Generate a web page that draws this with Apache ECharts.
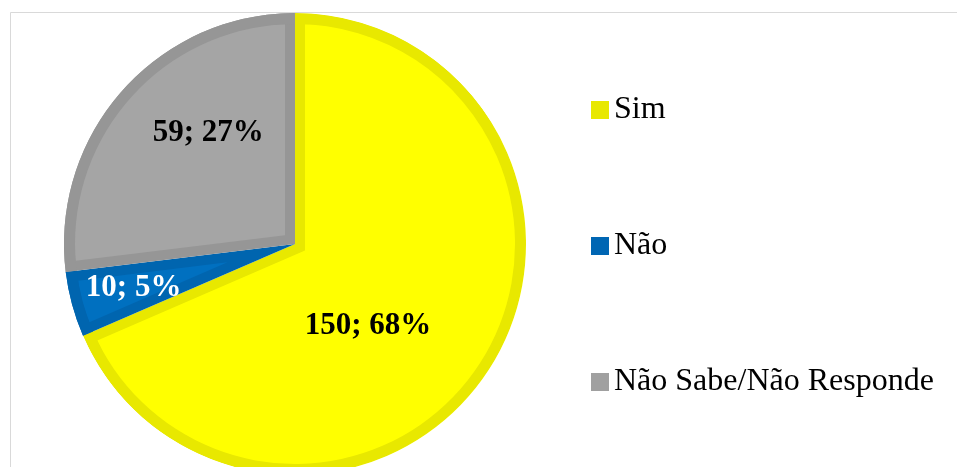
<!DOCTYPE html>
<html>
<head>
<meta charset="utf-8">
<script src="https://cdn.jsdelivr.net/npm/echarts@6/dist/echarts.min.js"></script>
<style>
html,body{margin:0;padding:0;background:#fff;}
#chart{width:957px;height:467px;}
</style>
</head>
<body>
<div id="chart"></div>
<script>
// ---- data ----
const categories = ['Sim', 'Não', 'Não Sabe/Não Responde'];
const values = [150, 10, 59];

// ---- styles ----
const lightColors = ['#FFFF00', '#0070C0', '#A5A5A5'];
const darkColors = ['#E8E800', '#0065AF', '#969696'];
const legendColors = ['#E8E800', '#0066B3', '#A0A0A0'];
const labelColors = ['#000000', '#FFFFFF', '#000000'];
const labelOffsets = [[-26, 17], [-47, 13], [2, -32]];

const cx = 295, cy = 244, R = 231, ring = 11, inset = 10;
const Rin = R - ring;
const total = values.reduce((a, b) => a + b, 0);
const T = 'rgba(0,0,0,0)';

const chart = echarts.init(document.getElementById('chart'), null, {renderer: 'canvas'});

const series = [];
// base dark pie
series.push({
  type: 'pie', z: 1, silent: true, center: [cx, cy], radius: R, startAngle: 90,
  label: {show: false}, labelLine: {show: false}, emphasis: {disabled: true},
  data: values.map((v, i) => ({name: categories[i], value: v, itemStyle: {color: darkColors[i], borderWidth: 0}}))
});
// light inset sectors
let cum = 0;
const overflow = [];
values.forEach((v, i) => {
  const startDeg = 90 - cum / total * 360;
  const span = v / total * 360;
  const mid = (startDeg - span / 2) * Math.PI / 180;
  const half = span / 2 * Math.PI / 180;
  const off = inset / Math.sin(half);
  const c = Math.cos(half);
  const rl = -off * c + Math.sqrt(off * off * c * c - off * off + Rin * Rin);
  overflow.push(rl + off > R);
  series.push({
    type: 'pie', z: 2, silent: true,
    center: [cx + off * Math.cos(mid), cy - off * Math.sin(mid)],
    radius: rl, startAngle: startDeg,
    label: {show: false}, labelLine: {show: false}, emphasis: {disabled: true},
    data: [
      {name: categories[i] + '_l', value: v, itemStyle: {color: lightColors[i], borderWidth: 0}},
      {name: 'rest' + i, value: total - v, itemStyle: {color: T, borderWidth: 0}}
    ]
  });
  cum += v;
});
// dark outer ring
series.push({
  type: 'pie', z: 3, silent: true, center: [cx, cy], radius: [Rin, R], startAngle: 90,
  label: {show: false}, labelLine: {show: false}, emphasis: {disabled: true},
  data: values.map((v, i) => ({name: categories[i] + '_r', value: v, itemStyle: {color: darkColors[i], borderWidth: 0}}))
});
// white cover for overflow
series.push({
  type: 'pie', z: 3, silent: true, center: [cx, cy], radius: [R, R + 16], startAngle: 90,
  label: {show: false}, labelLine: {show: false}, emphasis: {disabled: true},
  data: values.map((v, i) => ({name: categories[i] + '_w', value: v, itemStyle: {color: overflow[i] ? '#FFFFFF' : T, borderWidth: 0}}))
});
// labels
series.push({
  type: 'pie', z: 5, silent: true, center: [cx, cy], radius: R, startAngle: 90,
  percentPrecision: 0,
  labelLine: {show: false}, emphasis: {disabled: true},
  data: values.map((v, i) => ({
    name: categories[i] + '_t', value: v,
    itemStyle: {color: T, borderWidth: 0},
    label: {
      show: true, position: 'inside', formatter: '{c}; {d}%',
      color: labelColors[i], offset: labelOffsets[i],
      fontFamily: 'Liberation Serif', fontWeight: 'bold', fontSize: 31
    }
  }))
});

chart.setOption({
  animation: false,
  backgroundColor: '#FFFFFF',
  legend: {
    orient: 'vertical', left: 586, top: 89,
    itemWidth: 18, itemHeight: 18, itemGap: 104,
    selectedMode: false, icon: 'rect',
    textStyle: {fontFamily: 'Liberation Serif', fontSize: 32, color: '#000000'},
    data: categories.map((n, i) => ({name: n, itemStyle: {color: legendColors[i], borderWidth: 0}}))
  },
  graphic: [{
    type: 'rect', z: 100, silent: true,
    shape: {x: 10.5, y: 12.5, width: 947, height: 470},
    style: {fill: 'none', stroke: '#D9D9D9', lineWidth: 1}
  }],
  series: series
});
</script>
</body>
</html>
